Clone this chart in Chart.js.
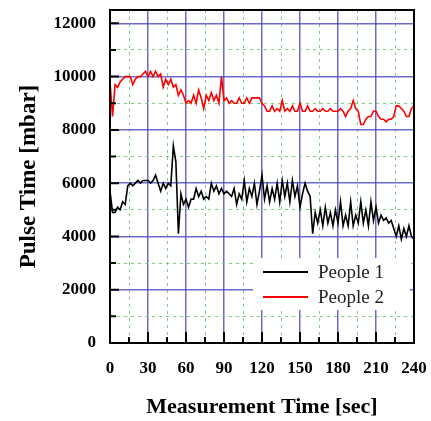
<!DOCTYPE html>
<html lang="en">
<head>
    <meta charset="UTF-8">
    <title>Pulse Time</title>
    <script src="https://cdn.jsdelivr.net/npm/chart.js"></script>
    <style>
        html, body { margin: 0; padding: 0; background: #fff; }
        #wrap { width: 431px; height: 421px; }
    </style>
</head>
<body>
    <div id="wrap"><canvas id="pulseChart" width="431" height="421"></canvas></div>

    <script>
        // measurement time [sec]
        const times = [
            0, 2, 4, 6, 8, 10, 12, 14, 16, 18, 20, 22, 24, 26, 28, 30, 32, 34, 36, 38,
            40, 42, 44, 46, 48, 50, 52, 54, 56, 58, 60, 62, 64, 66, 68, 70, 72, 74, 76, 78,
            80, 82, 84, 86, 88, 90, 92, 94, 96, 98, 100, 102, 104, 106, 108, 110, 112, 114, 116, 118,
            120, 122, 124, 126, 128, 130, 132, 134, 136, 138, 140, 142, 144, 146, 148, 150, 152, 154, 156, 158,
            160, 162, 164, 166, 168, 170, 172, 174, 176, 178, 180, 182, 184, 186, 188, 190, 192, 194, 196, 198,
            200, 202, 204, 206, 208, 210, 212, 214, 216, 218, 220, 222, 224, 226, 228, 230, 232, 234, 236, 238,
            240
        ];

        const people1 = [
            5700, 4900, 4900, 5100, 5000, 5300, 5200, 5900, 6000, 5900, 6000, 6100, 6000, 6100, 6100, 6100, 6000, 6100, 6300, 6000,
            5700, 6000, 5800, 6000, 5900, 7400, 6800, 4100, 5600, 5200, 5400, 5100, 5400, 5400, 5800, 5500, 5700, 5400, 5500, 5400,
            6000, 5700, 5900, 5600, 5800, 5600, 5700, 5600, 5500, 5800, 5200, 5600, 5400, 6100, 5300, 5800, 5500, 6000, 5200, 5700,
            6300, 5400, 5900, 5300, 5800, 5400, 6000, 5300, 6100, 5500, 6000, 5300, 6100, 5500, 5900, 5100, 5600, 6000, 5700, 5500,
            4100, 4900, 4500, 5000, 4400, 5100, 4500, 4900, 4400, 5000, 4500, 5300, 4400, 4800, 4400, 5300, 4400, 4800, 4500, 5300,
            4500, 5000, 4400, 5300, 4600, 5100, 4500, 4800, 4600, 4700, 4500, 4600, 4300, 4000, 4400, 3900, 4300, 4000, 4400, 4000,
            3900
        ];

        const people2 = [
            9800, 8500, 9700, 9600, 9800, 9900, 10000, 10000, 10000, 9700, 9900, 10000, 10000, 10100, 10200, 10000, 10200, 10000, 10200, 10000,
            10100, 9600, 9900, 9700, 9900, 9600, 9700, 9300, 9500, 9300, 9000, 9100, 9000, 9300, 9000, 9500, 9200, 8800, 9300, 9100,
            9400, 9100, 9300, 9000, 10000, 9100, 9200, 9000, 9100, 9000, 9000, 9200, 9000, 9000, 9200, 9000, 9200, 9200, 9200, 9200,
            9000, 8900, 8700, 8700, 8900, 8700, 8800, 8700, 9100, 8700, 8800, 8700, 8900, 8700, 8700, 9000, 8700, 8700, 8900, 8700,
            8700, 8800, 8700, 8700, 8800, 8700, 8700, 8800, 8700, 8700, 8700, 8800, 8700, 8500, 8700, 8800, 9100, 8800, 8700, 8200,
            8200, 8400, 8500, 8500, 8700, 8700, 8500, 8400, 8400, 8300, 8400, 8400, 8500, 8900, 8900, 8800, 8700, 8500, 8500, 8800,
            8900
        ];

        const xMajorTicks = [0, 30, 60, 90, 120, 150, 180, 210, 240];
        const xMinorTicks = [15, 45, 75, 105, 135, 165, 195, 225];
        const yMajorTicks = [0, 2000, 4000, 6000, 8000, 10000, 12000];
        const yMinorTicks = [1000, 3000, 5000, 7000, 9000, 11000];

        const seriesLabels = ['People 1', 'People 2'];
        const seriesColors = ['#000000', '#ff0000'];

        const serif = '"Liberation Serif", "Times New Roman", serif';

        function toPoints(values) {
            return values.map((v, i) => ({ x: times[i], y: v }));
        }

        // keep the plot box where the layout padding puts it
        function noPad(s) {
            s.paddingTop = 0;
            s.paddingBottom = 0;
            s.paddingLeft = 0;
            s.paddingRight = 0;
        }

        // black frame + inward tick marks
        const framePlugin = {
            id: 'frame',
            afterDatasetsDraw(chart) {
                const { ctx, chartArea: a, scales } = chart;
                ctx.save();
                ctx.strokeStyle = '#000';
                ctx.lineWidth = 2;
                ctx.strokeRect(a.left, a.top, a.right - a.left, a.bottom - a.top);

                ctx.beginPath();
                yMajorTicks.concat(yMinorTicks).forEach(v => {
                    const y = scales.y.getPixelForValue(v);
                    const len = v % 2000 === 0 ? 9 : 6;
                    ctx.moveTo(a.left, y);
                    ctx.lineTo(a.left + len, y);
                });
                xMajorTicks.concat(xMinorTicks).forEach(v => {
                    const x = scales.x.getPixelForValue(v);
                    const len = v % 30 === 0 ? 11 : 6;
                    ctx.moveTo(x, a.bottom);
                    ctx.lineTo(x, a.bottom - len);
                });
                ctx.stroke();
                ctx.restore();
            }
        };

        // legend drawn inside the plot area
        const insideLegend = {
            id: 'insideLegend',
            afterDatasetsDraw(chart) {
                const { ctx, chartArea: a } = chart;
                const boxLeft = a.right - 161;
                const boxTop = a.bottom - 85;
                ctx.save();
                ctx.fillStyle = '#fff';
                ctx.fillRect(boxLeft, boxTop, 157, 52);
                ctx.font = '19px ' + serif;
                ctx.textBaseline = 'middle';
                chart.data.datasets.forEach((ds, i) => {
                    const y = boxTop + 14 + i * 25;
                    ctx.strokeStyle = ds.borderColor;
                    ctx.lineWidth = 2;
                    ctx.beginPath();
                    ctx.moveTo(boxLeft + 10, y);
                    ctx.lineTo(boxLeft + 55, y);
                    ctx.stroke();
                    ctx.fillStyle = '#222';
                    ctx.fillText(ds.label, boxLeft + 65, y + 1);
                });
                ctx.restore();
            }
        };

        const ctx = document.getElementById('pulseChart').getContext('2d');
        new Chart(ctx, {
            type: 'line',
            data: {
                datasets: [
                    {
                        label: seriesLabels[0],
                        data: toPoints(people1),
                        borderColor: seriesColors[0],
                        borderWidth: 1.6,
                        pointRadius: 0,
                        tension: 0
                    },
                    {
                        label: seriesLabels[1],
                        data: toPoints(people2),
                        borderColor: seriesColors[1],
                        borderWidth: 1.6,
                        pointRadius: 0,
                        tension: 0
                    }
                ]
            },
            plugins: [framePlugin, insideLegend],
            options: {
                responsive: false,
                animation: false,
                layout: { padding: { top: 10, right: 17, left: 0, bottom: 0 } },
                plugins: {
                    legend: { display: false },
                    tooltip: { enabled: false }
                },
                scales: {
                    x: {
                        type: 'linear',
                        min: 0,
                        max: 240,
                        afterBuildTicks: s => { s.ticks = xMajorTicks.map(v => ({ value: v })); },
                        afterFit: s => { s.height = 78; noPad(s); },
                        grid: { color: 'rgba(70,70,190,0.8)', lineWidth: 1.5, drawTicks: false },
                        border: { display: false },
                        ticks: {
                            color: '#000',
                            padding: 15,
                            maxRotation: 0,
                            callback: v => String(v),
                            font: { family: serif, size: 17, weight: 'bold' }
                        },
                        title: {
                            display: true,
                            text: 'Measurement Time [sec]',
                            color: '#000',
                            padding: { top: 0, bottom: 0 },
                            font: { family: serif, size: 22, weight: 'bold' }
                        }
                    },
                    xMinor: {
                        type: 'linear',
                        position: 'bottom',
                        min: 0,
                        max: 240,
                        afterBuildTicks: s => { s.ticks = xMinorTicks.map(v => ({ value: v })); },
                        afterFit: s => { s.height = 0; noPad(s); },
                        grid: { color: 'rgba(110,200,110,0.9)', lineWidth: 1, drawTicks: false },
                        border: { display: false, dash: [3, 4] },
                        ticks: { display: false }
                    },
                    y: {
                        type: 'linear',
                        min: 0,
                        max: 12500,
                        afterBuildTicks: s => { s.ticks = yMajorTicks.map(v => ({ value: v })); },
                        afterFit: s => { s.width = 110; noPad(s); },
                        grid: { color: 'rgba(70,70,190,0.8)', lineWidth: 1.5, drawTicks: false },
                        border: { display: false },
                        ticks: {
                            color: '#000',
                            padding: 14,
                            callback: v => String(v),
                            font: { family: serif, size: 17, weight: 'bold' }
                        },
                        title: {
                            display: true,
                            text: 'Pulse Time [mbar]',
                            color: '#000',
                            padding: { top: 15, bottom: 0 },
                            font: { family: serif, size: 23, weight: 'bold' }
                        }
                    },
                    yMinor: {
                        type: 'linear',
                        position: 'left',
                        min: 0,
                        max: 12500,
                        afterBuildTicks: s => { s.ticks = yMinorTicks.map(v => ({ value: v })); },
                        afterFit: s => { s.width = 0; noPad(s); },
                        grid: { color: 'rgba(110,200,110,0.9)', lineWidth: 1, drawTicks: false },
                        border: { display: false, dash: [3, 4] },
                        ticks: { display: false }
                    }
                }
            }
        });
    </script>
</body>
</html>
